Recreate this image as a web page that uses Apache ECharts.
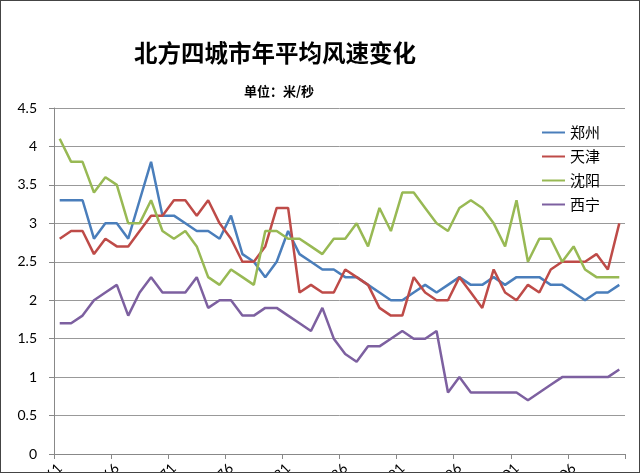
<!DOCTYPE html>
<html>
<head>
<meta charset="utf-8">
<script src="https://cdn.jsdelivr.net/npm/echarts@6/dist/echarts.min.js"></script>
<style>
html,body{margin:0;padding:0;background:#fff;}
#c{width:638px;height:471px;border:1px solid #444;}
</style>
</head>
<body>
<div id="c"></div>
<script>
const years = [];
for (let y = 1961; y <= 2010; y++) years.push(String(y));

const zhengzhou = [3.3,3.3,3.3,2.8,3.0,3.0,2.8,3.3,3.8,3.1,
  3.1,3.0,2.9,2.9,2.8,3.1,2.6,2.5,2.3,2.5,
  2.9,2.6,2.5,2.4,2.4,2.3,2.3,2.2,2.1,2.0,
  2.0,2.1,2.2,2.1,2.2,2.3,2.2,2.2,2.3,2.2,
  2.3,2.3,2.3,2.2,2.2,2.1,2.0,2.1,2.1,2.2];
const tianjin = [2.8,2.9,2.9,2.6,2.8,2.7,2.7,2.9,3.1,3.1,
  3.3,3.3,3.1,3.3,3.0,2.8,2.5,2.5,2.7,3.2,
  3.2,2.1,2.2,2.1,2.1,2.4,2.3,2.2,1.9,1.8,
  1.8,2.3,2.1,2.0,2.0,2.3,2.1,1.9,2.4,2.1,
  2.0,2.2,2.1,2.4,2.5,2.5,2.5,2.6,2.4,3.0];
const shenyang = [4.1,3.8,3.8,3.4,3.6,3.5,3.0,3.0,3.3,2.9,
  2.8,2.9,2.7,2.3,2.2,2.4,2.3,2.2,2.9,2.9,
  2.8,2.8,2.7,2.6,2.8,2.8,3.0,2.7,3.2,2.9,
  3.4,3.4,3.2,3.0,2.9,3.2,3.3,3.2,3.0,2.7,
  3.3,2.5,2.8,2.8,2.5,2.7,2.4,2.3,2.3,2.3];
const xining = [1.7,1.7,1.8,2.0,2.1,2.2,1.8,2.1,2.3,2.1,
  2.1,2.1,2.3,1.9,2.0,2.0,1.8,1.8,1.9,1.9,
  1.8,1.7,1.6,1.9,1.5,1.3,1.2,1.4,1.4,1.5,
  1.6,1.5,1.5,1.6,0.8,1.0,0.8,0.8,0.8,0.8,
  0.8,0.7,0.8,0.9,1.0,1.0,1.0,1.0,1.0,1.1];

const seriesNames = ['郑州','天津','沈阳','西宁'];
const seriesData = [zhengzhou, tianjin, shenyang, xining];
const colors = ['#4A7EBB','#BE4B48','#98B954','#7D60A0'];

const chart = echarts.init(document.getElementById('c'));
chart.setOption({
  animation: false,
  backgroundColor: '#fff',
  title: [
    {text: '北方四城市年平均风速变化', left: 133, top: 40, padding: 0,
     textStyle: {fontFamily: 'Noto Sans CJK SC', fontWeight: 'bold', fontSize: 23.5, color: '#000'}},
    {text: '单位：米/秒', left: 243, top: 84, padding: 0,
     textStyle: {fontFamily: 'Noto Sans CJK SC', fontWeight: 'bold', fontSize: 13, color: '#000'}}
  ],
  legend: {
    orient: 'vertical', left: 535, top: 119, itemWidth: 23, itemHeight: 14, itemGap: 9,
    itemStyle: {opacity: 0},
    textStyle: {fontFamily: 'Noto Sans CJK SC', fontSize: 15, color: '#000'},
    data: seriesNames
  },
  grid: {left: 53, right: 14, top: 107, bottom: 18, containLabel: false, outerBoundsMode: 'none'},
  xAxis: {
    type: 'category', data: years, boundaryGap: true,
    axisLine: {lineStyle: {color: '#888', width: 1}},
    axisTick: {show: true, interval: 4, length: 5, lineStyle: {color: '#888'}},
    axisLabel: {interval: 4, rotate: 45, margin: 12, fontSize: 14, color: '#000', fontFamily: 'Lato'},
    splitLine: {show: false}
  },
  yAxis: {
    type: 'value', min: 0, max: 4.5, interval: 0.5,
    axisLine: {show: true, lineStyle: {color: '#888', width: 1}},
    axisTick: {show: true, length: 5, lineStyle: {color: '#888'}},
    axisLabel: {fontSize: 14, color: '#000', fontFamily: 'Lato', margin: 17,
      formatter: v => String(v)},
    splitLine: {lineStyle: {color: '#999', width: 1}}
  },
  series: seriesNames.map((n, k) => ({
    name: n, type: 'line', data: seriesData[k], symbol: 'none',
    color: colors[k],
    lineStyle: {color: colors[k], width: 2.5}
  }))
});
</script>
</body>
</html>
